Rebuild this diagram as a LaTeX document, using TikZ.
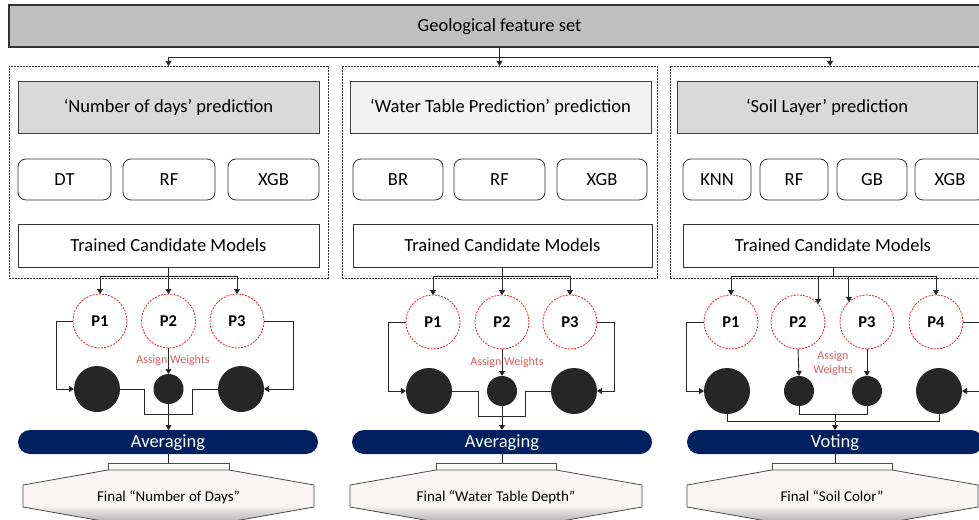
\documentclass[tikz,border=0pt]{standalone}
\usepackage{fontspec}
\setmainfont{Carlito}
\usetikzlibrary{arrows.meta,calc}
\definecolor{topgray}{HTML}{BFBFBF}
\definecolor{hdrgray}{HTML}{D9D9D9}
\definecolor{hdrlight}{HTML}{F2F2F2}
\definecolor{pred}{HTML}{E02828}
\definecolor{awred}{HTML}{D46060}
\definecolor{darkdot}{HTML}{262626}
\definecolor{navy}{HTML}{002060}
\definecolor{finpink}{HTML}{FAF5F5}
\definecolor{fingray}{HTML}{B0B0B0}
\pgfdeclareverticalshading{finalshade}{100bp}{color(0bp)=(fingray); color(25bp)=(fingray); color(41bp)=(finpink); color(100bp)=(finpink)}
\newcommand\fsz[2]{\fontsize{#1}{#2}\selectfont}
\tikzset{
  ctext/.style={text height=#1, text depth=0pt},
  conn/.style={line width=0.9pt, draw=black!85},
  arr/.style={conn, -{Triangle[length=5pt,width=6pt]}},
  dashbox/.style={draw=black!80, dash pattern=on 2pt off 1pt, line width=0.8pt, inner sep=0pt, outer sep=0pt},
  topbox/.style={ctext=11.9pt, draw=black!80, line width=1.2pt, fill=topgray, inner sep=0pt, outer sep=0pt, font=\fsz{18.5}{22}},
  header/.style={ctext=11.9pt, draw=black!75, line width=0.8pt, inner sep=0pt, outer sep=0pt, minimum height=52pt, font=\fsz{18.5}{22}},
  model/.style={ctext=11.9pt, draw=black!80, line width=0.8pt, rounded corners=8pt, fill=white, inner sep=0pt, outer sep=0pt, minimum height=41pt, font=\fsz{18.5}{22}},
  trained/.style={ctext=11.9pt, draw=black!80, line width=0.8pt, fill=white, inner sep=0pt, outer sep=0pt, minimum height=43pt, font=\fsz{18.5}{22}},
  pc/.style={ctext=10.6pt, circle, draw=pred, dash pattern=on 2pt off 1.2pt, line width=0.8pt, fill=white, minimum size=54pt, inner sep=0pt, outer sep=0pt, font=\bfseries\fsz{16.5}{19}},
  bigdot/.style={circle, fill=darkdot, minimum size=46pt, inner sep=0pt, outer sep=0pt},
  smalldot/.style={circle, fill=darkdot, minimum size=30pt, inner sep=0pt, outer sep=0pt},
  pill/.style={ctext=11.9pt, rounded corners=12pt, fill=navy, text=white, minimum height=24pt, inner sep=0pt, outer sep=0pt, font=\fsz{18.5}{22}},
  finshape/.style={draw=black!70, line width=0.8pt, shading=finalshade},
  smallrect/.style={draw=black!70, line width=0.8pt, fill=white, minimum height=7pt, inner sep=0pt, outer sep=0pt},
  fintext/.style={ctext=9.7pt, font=\fsz{15}{18}, inner sep=0pt},
  aw/.style={text=awred, font=\fsz{12}{14}, align=center, inner sep=0pt}
}
\begin{document}
\begin{tikzpicture}[x=1pt,y=-1pt]
\useasboundingbox (0,0) rectangle (979,519);
\clip (0,0) rectangle (979,519);
\fill[white] (0,0) rectangle (979,519);

% top
\node[topbox, minimum width=981pt, minimum height=42pt] (top) at (499.5,26) {Geological feature set};

% dashed panels
\node[dashbox, minimum width=319pt, minimum height=212pt] (dL) at (168.5,172) {};
\node[dashbox, minimum width=315pt, minimum height=212pt] (dM) at (499.5,172) {};
\node[dashbox, minimum width=320pt, minimum height=212pt] (dR) at (830,172) {};

\coordinate (jt) at (499.5,57);
\draw[conn] (top.south) -- (jt);
\draw[arr] (jt) -| (dL.north);
\draw[arr] (jt) -- (dM.north);
\draw[arr] (jt) -| (dR.north);

% headers
\node[header, fill=hdrgray, minimum width=301pt] (hL) at (168.5,107) {‘Number of days’ prediction};
\node[header, fill=hdrlight, minimum width=301pt] (hM) at (500.5,107) {‘Water Table Prediction’ prediction};
\node[header, fill=hdrgray, minimum width=300pt] (hR) at (827,107) {‘Soil Layer’ prediction};

% models
\node[model, minimum width=93pt] (mL1) at (64.5,179.5) {DT};
\node[model, minimum width=92pt] (mL2) at (169,179.5) {RF};
\node[model, minimum width=91pt] (mL3) at (273.5,179.5) {XGB};
\node[model, minimum width=90pt] (mM1) at (398,179.5) {BR};
\node[model, minimum width=91pt] (mM2) at (499.5,179.5) {RF};
\node[model, minimum width=90pt] (mM3) at (602,179.5) {XGB};
\node[model, minimum width=68pt] (mR1) at (717,179.5) {KNN};
\node[model, minimum width=68pt] (mR2) at (794,179.5) {RF};
\node[model, minimum width=70pt] (mR3) at (872,179.5) {GB};
\node[model, minimum width=70pt] (mR4) at (950,179.5) {XGB};

% trained
\node[trained, minimum width=301pt] (tL) at (168.5,245.5) {Trained Candidate Models};
\node[trained, minimum width=299pt] (tM) at (502.5,245.5) {Trained Candidate Models};
\node[trained, minimum width=300pt] (tR) at (833,245.5) {Trained Candidate Models};

% ---------- left panel ----------
\node[pc] (pL1) at (100,321) {P1};
\node[pc] (pL2) at (168.5,321) {P2};
\node[pc] (pL3) at (237,321) {P3};
\coordinate (jL) at (168.5,276);
\draw[conn] (tL.south) -- (jL);
\draw[arr] (jL) -| (pL1.north);
\draw[arr] (jL) -- (pL2.north);
\draw[arr] (jL) -| (pL3.north);
\node[bigdot] (bL1) at (97,389) {};
\node[smalldot] (sL) at (168.5,389) {};
\node[bigdot] (bL3) at (241,389) {};
\draw[arr] (pL1.west) -- ++(-17,0) |- (bL1.west);
\draw[arr] (pL3.east) -- ++(29,0) |- (bL3.east);
\draw[arr] (pL2.south) -- (sL.north);
\node[aw] (awL) at (173,360) {Assign Weights};
\draw[conn] (bL1.east) -| (144,414) -| (192,389) -- (bL3.west);
\node[pill, minimum width=300pt] (avL) at (168,442) {Averaging};
\draw[arr] (sL.south) -- (sL.south |- avL.north);
\node[smallrect, minimum width=121pt] (rL) at (168.5,466.5) {};
\draw[conn] (avL.south) -- (avL.south |- rL.north);
\path[finshape] (rL.south west) -- (23,485) -- (23,507) -- (108,522) -- (229,522) -- (314,507) -- (314,485) -- (rL.south east) -- cycle;
\node[fintext] (fL) at (168.5,497) {Final “Number of Days”};

% ---------- middle panel ----------
\node[pc] (pM1) at (433,322) {P1};
\node[pc] (pM2) at (502,322) {P2};
\node[pc] (pM3) at (570,322) {P3};
\coordinate (jM) at (502,276);
\draw[conn] (tM.south -| jM) -- (jM);
\draw[arr] (jM) -| (pM1.north);
\draw[arr] (jM) -- (pM2.north);
\draw[arr] (jM) -| (pM3.north);
\node[bigdot] (bM1) at (429,391) {};
\node[smalldot] (sM) at (502,391) {};
\node[bigdot] (bM3) at (574,391) {};
\draw[arr] (pM1.west) -- ++(-18,0) |- (bM1.west);
\draw[arr] (pM3.east) -- ++(17,0) |- (bM3.east);
\draw[arr] (pM2.south) -- (sM.north);
\node[aw] (awM) at (507,362) {Assign Weights};
\draw[conn] (bM1.east) -| (478,416) -| (525,391) -- (bM3.west);
\node[pill, minimum width=300pt] (avM) at (502,442) {Averaging};
\draw[arr] (sM.south) -- (sM.south |- avM.north);
\node[smallrect, minimum width=120pt] (rM) at (496,466.5) {};
\draw[conn] (avM.south) -- (avM.south |- rM.north);
\path[finshape] (rM.south west) -- (350,485) -- (350,507) -- (436,522) -- (556,522) -- (642,507) -- (642,485) -- (rM.south east) -- cycle;
\node[fintext] (fM) at (496,497) {Final “Water Table Depth”};

% ---------- right panel ----------
\node[pc] (pR1) at (731,322) {P1};
\node[pc] (pR2) at (798,322) {P2};
\node[pc] (pR3) at (867,322) {P3};
\node[pc] (pR4) at (936,322) {P4};
\coordinate (jR) at (833,276);
\draw[conn] (tR.south) -- (jR);
\draw[arr] (jR) -| (pR1.north);
\draw[arr] (jR) -| (pR4.north);
\draw[arr] (pR2.42 |- jR) -- (pR2.42);
\draw[arr] (pR3.132 |- jR) -- (pR3.132);
\node[bigdot] (bR1) at (727,391) {};
\node[smalldot] (sR2) at (799,391) {};
\node[smalldot] (sR3) at (867,391) {};
\node[bigdot] (bR4) at (939,391) {};
\draw[arr] (pR1.west) -- ++(-18,0) |- (bR1.west);
\draw[arr] (pR4.east) -- ++(20,0) |- (bR4.east);
\draw[arr] (pR2.south) -- (sR2.north);
\draw[arr] (pR3.south) -- (sR3.north);
\node[aw] (awR) at (833,363) {Assign\\Weights};
\draw[conn] (sR2.south) -- ++(0,8) -| (sR3.south);
\draw[conn] (bR1.south) -- ++(0,7) -| (bR4.south);
\node[pill, minimum width=296pt] (vR) at (835,442) {Voting};
\coordinate (jV) at (835,414);
\draw[arr] (jV) -- (vR.north);
\node[smallrect, minimum width=120pt] (rR) at (832,466.5) {};
\draw[conn] (vR.south) -- (vR.south |- rR.north);
\path[finshape] (rR.south west) -- (687,485) -- (687,507) -- (772,522) -- (892,522) -- (978,507) -- (978,485) -- (rR.south east) -- cycle;
\node[fintext] (fR) at (832,497) {Final “Soil Color”};
\end{tikzpicture}
\end{document}
